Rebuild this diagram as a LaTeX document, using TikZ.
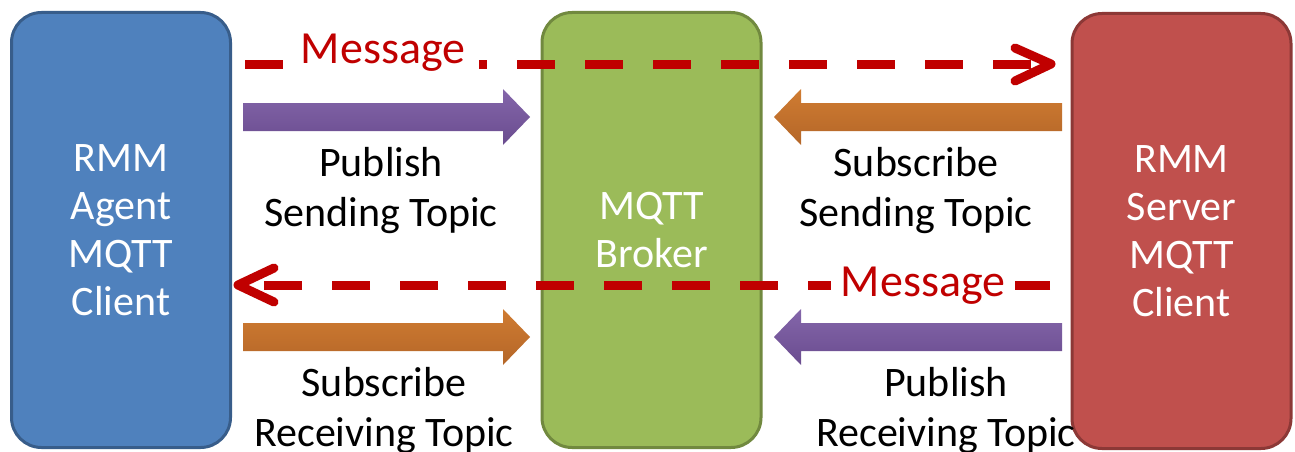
\documentclass[tikz,border=0pt]{standalone}
\usepackage{fontspec}
\setmainfont{Carlito}
\definecolor{agentblue}{RGB}{79,129,189}
\definecolor{agentblueD}{RGB}{56,93,138}
\definecolor{brokergreen}{RGB}{155,187,89}
\definecolor{brokergreenD}{RGB}{113,137,63}
\definecolor{serverred}{RGB}{192,80,77}
\definecolor{serverredD}{RGB}{140,56,54}
\definecolor{msgred}{RGB}{192,0,0}
\definecolor{purpT}{RGB}{132,102,170}
\definecolor{purpB}{RGB}{106,76,143}
\definecolor{orgT}{RGB}{208,124,50}
\definecolor{orgB}{RGB}{180,102,40}
\begin{document}
\begin{tikzpicture}[x=1pt,y=-1pt,
  font=\fontsize{42}{48}\selectfont,
  box/.style={line width=3pt, rounded corners=30pt, text=white, align=center,
    minimum width=219pt, minimum height=435pt, inner sep=0pt},
  lbl/.style={align=center, text=black, inner sep=0pt,
    font=\fontsize{42}{50}\selectfont},
  msgline/.style={draw=msgred, line width=9pt, dash pattern=on 38pt off 30pt},
  msghead/.style={draw=msgred, line width=9pt, line cap=round, line join=round},
  msglbl/.style={text=msgred, fill=white, inner xsep=14pt, inner ysep=6pt,
    font=\fontsize{46}{52}\selectfont},
  purpshade/.style={top color=purpT, bottom color=purpB},
  orgshade/.style={top color=orgT, bottom color=orgB}]
\useasboundingbox (0,0) rectangle (1295,452);

% boxes
\node[box, fill=agentblue, draw=agentblueD] (agent) at (121,230)
  {RMM\\Agent\\MQTT\\Client};
\node[box, fill=brokergreen, draw=brokergreenD] (broker) at (651.5,230)
  {MQTT\\Broker};
\node[box, fill=serverred, draw=serverredD] (server) at (1181.5,231)
  {RMM\\Server\\MQTT\\Client};

% block arrows
\shade[purpshade] (243,103) -- (503,103) -- (503,89) -- (530,117) -- (503,145)
  -- (503,131) -- (243,131) -- cycle;
\shade[orgshade] (1062,103) -- (801,103) -- (801,89) -- (774,117) -- (801,145)
  -- (801,131) -- (1062,131) -- cycle;
\shade[orgshade] (243,323) -- (503,323) -- (503,309) -- (530,337) -- (503,365)
  -- (503,351) -- (243,351) -- cycle;
\shade[purpshade] (1062,323) -- (801,323) -- (801,309) -- (774,337) -- (801,365)
  -- (801,351) -- (1062,351) -- cycle;

% message arrow agent -> server
\coordinate (m1s) at (245,65);
\coordinate (m1e) at (1050,65);
\coordinate (m1t) at (1051,64);
\draw[msgline] (m1s) -- (m1e);
\draw[msghead] (1015,48) -- (m1t) -- (1015,81);
\node[msglbl] (msg1) at (383,53) {Message};

% message arrow server -> agent
\coordinate (m2s) at (1050,285);
\coordinate (m2e) at (240,285);
\coordinate (m2t) at (238,285);
\draw[msgline] (m2s) -- (m2e);
\draw[msghead] (274,268) -- (m2t) -- (274,302);
\node[msglbl, inner xsep=10pt, inner ysep=0pt] (msg2) at (923,286) {Message};

% labels
\node[lbl] (l1) at (381,191) {Publish\\Sending Topic};
\node[lbl] (l2) at (916,191) {Subscribe\\Sending Topic};
\node[lbl] (l3) at (384,411) {Subscribe\\Receiving Topic};
\node[lbl] (l4) at (946,411) {Publish\\Receiving Topic};
\end{tikzpicture}
\end{document}
